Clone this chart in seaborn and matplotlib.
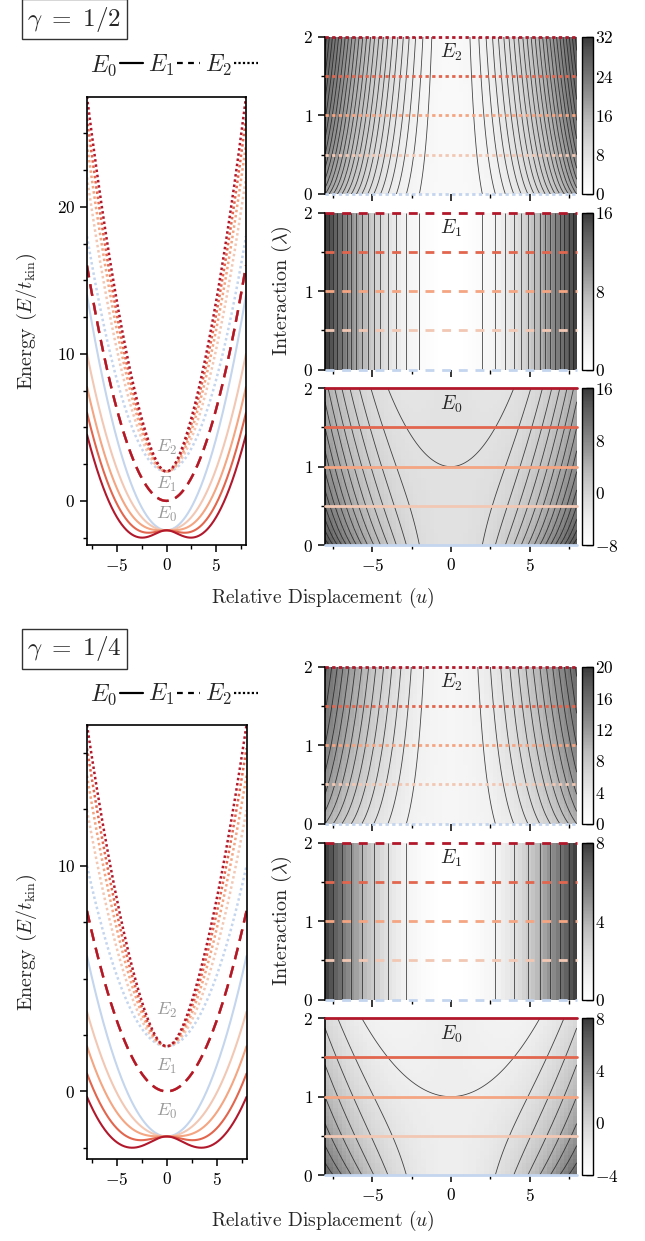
import numpy as np
import pandas as pd
import matplotlib
matplotlib.use("Agg")
import matplotlib.pyplot as plt
import seaborn as sns
from matplotlib.lines import Line2D
from matplotlib.colors import LinearSegmentedColormap

# ---------------- data ----------------
gammas = [0.5, 0.25]
gamma_labels = [r"$\gamma\ =\ 1/2$", r"$\gamma\ =\ 1/4$"]
lambdas = [0.0, 0.5, 1.0, 1.5, 2.0]
lambda_colors = ["#c4d5ee", "#f2c8b4", "#f4a582", "#e2664e", "#b2182b"]
gap0 = 2.0                      # E2 - E1 = E1 - E0 at u = 0
u_min, u_max = -8.0, 8.0
level_names = ["E0", "E1", "E2"]
level_tex = [r"$E_0$", r"$E_1$", r"$E_2$"]
level_label_y = [-0.9, 1.1, 3.6]
cbar_limits = {0.5: {"E2": (0, 32), "E1": (0, 16), "E0": (-8, 16)},
               0.25: {"E2": (0, 20), "E1": (0, 8), "E0": (-4, 8)}}
cbar_ticks = {0.5: {"E2": [0, 8, 16, 24, 32], "E1": [0, 8, 16], "E0": [-8, 0, 8, 16]},
              0.25: {"E2": [0, 4, 8, 12, 16, 20], "E1": [0, 4, 8], "E0": [-4, 0, 4, 8]}}
energy_yticks = {0.5: [0, 10, 20], 0.25: [0, 10]}
lambda_ticks = [0, 1, 2]
u_ticks = [-5, 0, 5]


def energies(u, lam, gamma):
    base = gamma * u ** 2 / 2.0
    split = np.sqrt(gap0 ** 2 + 2.0 * gamma * lam * u ** 2)
    return {"E0": base - split, "E1": base + 0.0 * lam, "E2": base + split}


# ---------------- style ----------------
sns.set_theme(style="ticks")
plt.rcParams.update({
    "font.family": ["cmr10", "DejaVu Serif"],
    "mathtext.fontset": "cm",
    "axes.formatter.use_mathtext": True,
    "axes.linewidth": 1.2,
    "axes.edgecolor": "black",
    "xtick.color": "black", "ytick.color": "black",
    "xtick.direction": "out", "ytick.direction": "out",
    "xtick.major.size": 5, "ytick.major.size": 5,
    "xtick.minor.size": 2.5, "ytick.minor.size": 2.5,
    "xtick.major.width": 1.1, "ytick.major.width": 1.1,
    "xtick.labelsize": 12.5, "ytick.labelsize": 12.5,
    "contour.negative_linestyle": "solid",
})

W, H = 645, 1241
fig = plt.figure(figsize=(W / 100, H / 100), dpi=100)


def add_ax(x0, y0, x1, y1):
    return fig.add_axes([x0 / W, 1 - y1 / H, (x1 - x0) / W, (y1 - y0) / H])


styles = {"E0": dict(ls="-", lw=1.5), "E1": dict(ls=(0, (5, 3)), lw=1.7),
          "E2": dict(ls=(0, (1, 1.1)), lw=1.8)}
hstyles = {"E0": dict(ls="-"), "E1": dict(ls=(0, (3.2, 2.8))), "E2": dict(ls=(0, (1.2, 1.2)))}

cmap = LinearSegmentedColormap.from_list(
    "greys_cut", plt.get_cmap("Greys")(np.linspace(0.0, 0.82, 256)))

layouts = [
    dict(off=0.0, left=(87, 96.7, 246, 545), xlab_y=598,
         right=[(37, 194), (212.7, 369.7), (388.3, 545)]),
    dict(off=629.7, left=(87, 725, 246.5, 1159), xlab_y=1221,
         right=[(666.7, 823.7), (842.7, 999.7), (1018.3, 1175)]),
]

u_line = np.linspace(u_min, u_max, 401)
u_edges = np.linspace(u_min, u_max, 61)
lam_edges = np.linspace(0, 2, 41)
u_c = 0.5 * (u_edges[1:] + u_edges[:-1])
lam_c = 0.5 * (lam_edges[1:] + lam_edges[:-1])
u_f = np.linspace(u_min, u_max, 320)
lam_f = np.linspace(0, 2, 161)

for gamma, glabel, lay in zip(gammas, gamma_labels, layouts):
    off = lay["off"]
    # ---------- gamma box ----------
    fig.text(74.5 / W, 1 - (19 + off) / H, glabel, ha="center", va="center",
             fontsize=18, bbox=dict(boxstyle="square,pad=0.22", fc="white", ec="#333333", lw=1.0))
    # ---------- legend ----------
    handles = [Line2D([], [], color="black", lw=1.6, ls="-"),
               Line2D([], [], color="black", lw=1.6, ls=(0, (2.6, 2.4))),
               Line2D([], [], color="black", lw=1.6, ls=(0, (1, 1)))]
    fig.legend(handles, level_tex, loc="center", bbox_to_anchor=(174 / W, 1 - (65 + off) / H),
               ncol=3, frameon=False, markerfirst=False, handlelength=1.0,
               handletextpad=0.1, columnspacing=0.2, fontsize=17, borderpad=0)

    # ---------- left panel ----------
    axL = add_ax(*lay["left"])
    rows = []
    for lam in lambdas:
        E = energies(u_line, lam, gamma)
        for name in level_names:
            rows.append(pd.DataFrame({"u": u_line, "E": E[name], "lam": lam, "level": name}))
    df = pd.concat(rows, ignore_index=True)
    for lam, col in zip(lambdas, lambda_colors):
        for name in level_names:
            sub = df[(df["lam"] == lam) & (df["level"] == name)]
            sns.lineplot(data=sub, x="u", y="E", ax=axL, color=col,
                         legend=False, sort=False, **styles[name])
    for name, tex, yl in zip(level_names, level_tex, level_label_y):
        axL.text(0, yl, tex, ha="center", va="center", color="#9a9a9a", fontsize=13)
    emax = df["E"].max()
    axL.set_xlim(u_min, u_max)
    axL.set_ylim(-3, emax)
    axL.set_xticks(u_ticks)
    axL.set_xticks([-7.5, -2.5, 2.5, 7.5], minor=True)
    axL.set_yticks(energy_yticks[gamma])
    axL.set_yticks(np.arange(-2.5, emax, 2.5), minor=True)
    axL.set_xlabel("")
    axL.set_ylabel("")
    axL.tick_params(which="minor", length=3)
    fig.text(27 / W, 1 - ((lay["left"][1] + lay["left"][3]) / 2) / H,
             r"Energy $(E/t_{\mathrm{kin}})$", rotation=90, ha="center", va="center", fontsize=14.5)

    # ---------- right panels ----------
    U, L = np.meshgrid(u_c, lam_c)
    Uf, Lf = np.meshgrid(u_f, lam_f)
    Zc = energies(U, L, gamma)
    Zf = energies(Uf, Lf, gamma)
    for k, name in enumerate(["E2", "E1", "E0"]):
        y0, y1 = lay["right"][k]
        ax = add_ax(325, y0, 576.7, y1)
        vmin, vmax = cbar_limits[gamma][name]
        mesh = ax.pcolormesh(u_edges, lam_edges, Zc[name], cmap=cmap, vmin=vmin, vmax=vmax,
                             shading="flat", rasterized=True)
        zf = Zf[name]
        if name == "E0":
            levels = np.arange(-2, np.ceil(zf.max()), 1.0)
        elif name == "E1":
            levels = np.arange(1, np.floor(zf.max()), 1.0)
        else:
            levels = np.arange(3, np.ceil(zf.max()), 1.0)
        ax.contour(u_f, lam_f, zf, levels=levels, colors="#1a1a1a", linewidths=0.6,
                   alpha=0.8, linestyles="solid")
        for lam, col in zip(lambdas, lambda_colors):
            ax.axhline(lam, color=col, lw=2.0, clip_on=False, zorder=4, **hstyles[name])
        ax.text(0, 1.8, level_tex[level_names.index(name)], ha="center", va="center", fontsize=14)
        ax.set_xlim(u_min, u_max)
        ax.set_ylim(0, 2)
        ax.set_yticks(lambda_ticks)
        ax.set_yticks([0.5, 1.5], minor=True)
        ax.set_xticks(u_ticks)
        ax.set_xticks([-7.5, -2.5, 2.5, 7.5], minor=True)
        ax.tick_params(which="minor", length=3)
        for s in ["top", "right", "bottom"]:
            ax.spines[s].set_visible(False)
        if name != "E0":
            ax.set_xticklabels([])
        cax = add_ax(582.3, y0, 592.7, y1)
        cb = fig.colorbar(mesh, cax=cax, ticks=cbar_ticks[gamma][name])
        cb.outline.set_linewidth(1.0)
        cb.ax.tick_params(direction="in", length=5, width=1.0, labelsize=12.5, pad=2)
    fig.text(282 / W, 1 - ((lay["right"][0][0] + lay["right"][2][1]) / 2) / H,
             r"Interaction $(\lambda)$", rotation=90, ha="center", va="center", fontsize=14.5)
    fig.text(323 / W, 1 - lay["xlab_y"] / H, r"Relative Displacement $(u)$",
             ha="center", va="center", fontsize=14)

fig.savefig("out.png", dpi=100)
